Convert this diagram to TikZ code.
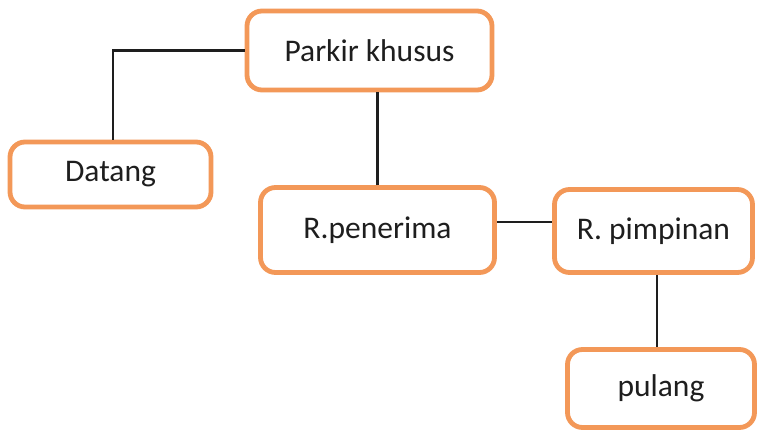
\documentclass[tikz,border=0pt]{standalone}
\usepackage{fontspec}
\setmainfont{Carlito}
\definecolor{boxorange}{RGB}{243,152,88}
\definecolor{inkdark}{RGB}{30,30,30}
\begin{document}
\begin{tikzpicture}[x=1pt,y=-1pt,
  flowbox/.style={draw=boxorange, line width=4.8pt, rounded corners=15pt,
    fill=white, text=inkdark, inner sep=0pt,
    font=\fontsize{31.5}{36}\selectfont},
  link/.style={draw=inkdark, line width=2.2pt}]
  \useasboundingbox[fill=white] (0,0) rectangle (758,433);

  % the five stations
  \node[flowbox, minimum width=245pt, minimum height=79pt] (parkir)   at (369.5,50.5) {Parkir khusus};
  \node[flowbox, minimum width=201pt, minimum height=65pt] (datang)   at (110.5,174.5) {Datang};
  \node[flowbox, minimum width=234pt, minimum height=85pt] (penerima) at (377.5,230) {R.penerima};
  \node[flowbox, minimum width=198pt, minimum height=83pt] (pimpinan) at (653.5,231) {R. pimpinan};
  \node[flowbox, minimum width=187pt, minimum height=78pt] (pulang)   at (661,388.5) {pulang};

  % plain connectors between them
  \draw[link] (parkir.west) -| ([xshift=2.5pt]datang.north);
  \draw[link] (penerima.north) -- (penerima.north |- parkir.south);
  \draw[link] ([yshift=8pt]penerima.east) -- ([yshift=8pt]penerima.east -| pimpinan.west);
  \draw[link] ([xshift=3.5pt]pimpinan.south) -- ([xshift=3.5pt]pimpinan.south |- pulang.north);
\end{tikzpicture}
\end{document}
